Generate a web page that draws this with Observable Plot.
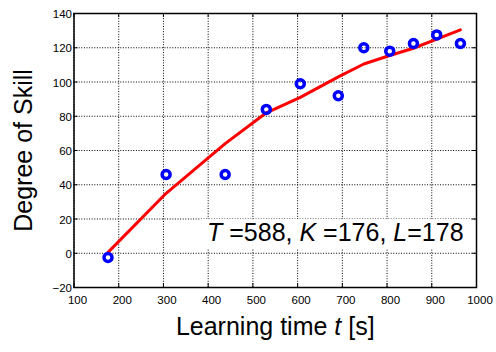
<!DOCTYPE html>
<html><head><meta charset="utf-8">
<script src="https://cdn.jsdelivr.net/npm/d3@7"></script>
<script src="https://cdn.jsdelivr.net/npm/@observablehq/plot@0.6"></script>
<style>body{margin:0;background:#fff;} svg{display:block;}</style>
</head><body><div id="chart"></div>
<script>
// ---- data ----
const timeS  = [176, 306, 438, 530, 606, 691, 748, 806, 859, 911, 964];
const skill  = [-2.5, 46, 46, 84, 99, 92, 120, 118, 122.5, 127.5, 122.5];
const fitted = [0.5, 35, 64, 82, 91, 103, 110.5, 115.5, 119.7, 125, 130.5];
const xTicks = [100, 200, 300, 400, 500, 600, 700, 800, 900, 1000];
const yTicks = [-20, 0, 20, 40, 60, 80, 100, 120, 140];
const xLabelParts = [["Learning time ", false], ["t", true], [" [s]", false]];
const yLabel = "Degree of Skill";
const annotParts = [["T", true], [" =588, ", false], ["K", true], [" =176, ", false], ["L", true], ["=178", false]];
const annotPos = [{x: 971, y: 11.8}];

const pts = timeS.map((t, i) => ({t, skill: skill[i], fit: fitted[i]}));
const join = parts => parts.map(p => p[0]).join("");
const font = "'Liberation Sans', Arial, sans-serif";
const W = 496, H = 352, mL = 73.5, mR = 20, mT = 13, mB = 65;
const innerW = W - mL - mR, innerH = H - mT - mB;
const gridStyle = {stroke: "black", strokeOpacity: 1, strokeWidth: 1, strokeDasharray: "1,1.6"};
const fmt = d => d < 0 ? "\u2212" + Math.abs(d) : String(d);

const chart = Plot.plot({
  width: W, height: H,
  marginLeft: mL, marginRight: mR, marginTop: mT, marginBottom: mB,
  style: {fontFamily: font, background: "white", color: "black"},
  x: {domain: [100, 1000]},
  y: {domain: [-20, 140]},
  marks: [
    Plot.gridX({ticks: xTicks, ...gridStyle}),
    Plot.gridY({ticks: yTicks, ...gridStyle}),
    Plot.tickX(xTicks, {x: d => d, stroke: "black", insetTop: innerH - 4}),
    Plot.tickX(xTicks, {x: d => d, stroke: "black", insetBottom: innerH - 4}),
    Plot.tickY(yTicks, {y: d => d, stroke: "black", insetRight: innerW - 4}),
    Plot.tickY(yTicks, {y: d => d, stroke: "black", insetLeft: innerW - 4}),
    Plot.axisX({ticks: xTicks, tickFormat: fmt, tickSize: 0, tickPadding: 8, dx: 3.5, fontSize: 11.5, label: null}),
    Plot.axisY({ticks: yTicks, tickFormat: fmt, tickSize: 0, tickPadding: 2, dy: 1, fontSize: 11.5, label: null}),
    Plot.line(pts, {x: "t", y: "fit", stroke: "#ff0000", strokeWidth: 3}),
    Plot.dot(pts, {x: "t", y: "skill", r: 4, stroke: "#0000ff", strokeWidth: 3.5, fill: "none"}),
    Plot.text(annotPos, {x: "x", y: "y", text: () => join(annotParts), textAnchor: "end", fontSize: 25, fill: "black"}),
    Plot.text([yLabel], {text: d => d, frameAnchor: "left", textAnchor: "middle", dx: -50, rotate: -90, fontSize: 25, fill: "black"}),
    Plot.text([join(xLabelParts)], {text: d => d, frameAnchor: "bottom", textAnchor: "middle", dy: 47, fontSize: 25, fill: "black"}),
    Plot.frame({stroke: "black", strokeWidth: 1.5})
  ]
});
document.getElementById("chart").appendChild(chart);

function richify(el, parts) {
  el.textContent = "";
  for (const [s, it] of parts) {
    const ts = document.createElementNS("http://www.w3.org/2000/svg", "tspan");
    ts.textContent = s;
    if (it) ts.setAttribute("font-style", "italic");
    el.appendChild(ts);
  }
}
const texts = Array.from(chart.querySelectorAll("text"));
const annEl = texts.find(t => t.textContent === join(annotParts));
const xlEl = texts.find(t => t.textContent === join(xLabelParts));
if (xlEl) richify(xlEl, xLabelParts);
if (annEl) {
  richify(annEl, annotParts);
  const bb = annEl.getBBox();
  const r = document.createElementNS("http://www.w3.org/2000/svg", "rect");
  r.setAttribute("x", bb.x - 7);
  r.setAttribute("y", bb.y + 1);
  r.setAttribute("width", bb.width + 14);
  r.setAttribute("height", bb.height + 2);
  r.setAttribute("fill", "white");
  if (annEl.getAttribute("transform")) r.setAttribute("transform", annEl.getAttribute("transform"));
  annEl.parentNode.insertBefore(r, annEl);
}
</script>
</body></html>
